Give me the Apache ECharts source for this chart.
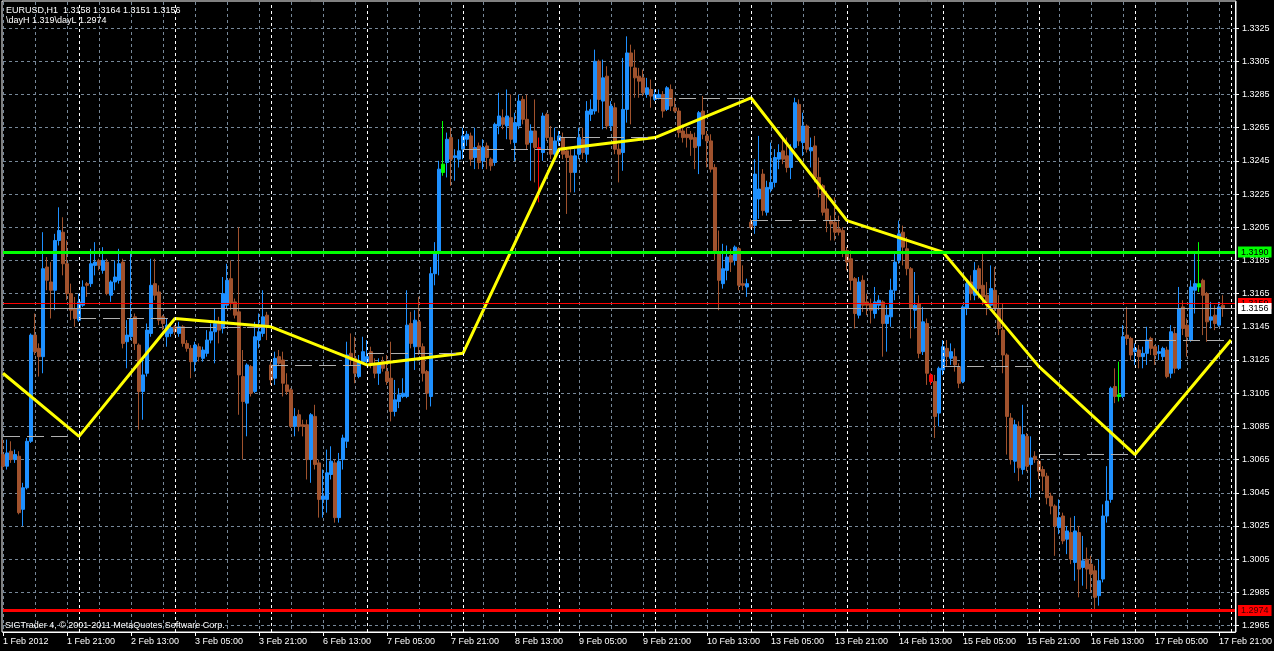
<!DOCTYPE html>
<html><head><meta charset="utf-8">
<script src="https://cdn.jsdelivr.net/npm/echarts@6/dist/echarts.min.js"></script>
<style>html,body{margin:0;padding:0;background:#000}#c{width:1274px;height:651px}</style>
</head><body><div id="c"></div>
<script>
// ---------- data ----------
const tradingDays = ['1 Feb','2 Feb','3 Feb','6 Feb','7 Feb','8 Feb','9 Feb','10 Feb','13 Feb','14 Feb','15 Feb','16 Feb','17 Feb','18 Feb'];
const firstHour = 5;
const slotCount = 309;
const firstLabel = '1 Feb 2012';
const symbolName = 'EURUSD,H1';
const indicatorText = '\\dayH 1.319\\dayL 1.2974';
const copyrightText = 'SIGTrader 4, \u00a9 2001-2011 MetaQuotes Software Corp.';
const yTicks = [1.2965,1.2985,1.3005,1.3025,1.3045,1.3065,1.3085,1.3105,1.3125,1.3145,1.3165,1.3185,1.3205,1.3225,1.3245,1.3265,1.3285,1.3305,1.3325];

// [open, close, low, high]
const ohlcWeek1 = [
[1.3068,1.3061,1.3059,1.3077],[1.3061,1.3069,1.3059,1.3077],[1.3070,1.3065,1.3063,1.3076],[1.3065,1.3068,1.3063,1.3071],
[1.3067,1.3033,1.3032,1.3070],[1.3035,1.3048,1.3025,1.3051],[1.3048,1.3076,1.3047,1.3078],[1.3076,1.3140,1.3075,1.3141],
[1.3140,1.3130,1.3128,1.3153],[1.3132,1.3127,1.3115,1.3135],[1.3127,1.3180,1.3117,1.3202],[1.3181,1.3173,1.3167,1.3187],
[1.3172,1.3167,1.3150,1.3184],[1.3167,1.3197,1.3155,1.3201],[1.3197,1.3203,1.3194,1.3217],[1.3202,1.3183,1.3176,1.3211],
[1.3183,1.3165,1.3161,1.3197],[1.3165,1.3155,1.3149,1.3171],[1.3156,1.3150,1.3145,1.3163],[1.3149,1.3160,1.3148,1.3165],
[1.3158,1.3169,1.3157,1.3173],[1.3171,1.3170,1.3163,1.3172],[1.3171,1.3183,1.3169,1.3192],[1.3182,1.3184,1.3176,1.3196],
[1.3185,1.3182,1.3179,1.3186],[1.3179,1.3185,1.3177,1.3193],[1.3184,1.3165,1.3164,1.3186],[1.3164,1.3172,1.3160,1.3173],
[1.3172,1.3175,1.3167,1.3185],[1.3173,1.3183,1.3171,1.3192],[1.3184,1.3135,1.3132,1.3186],[1.3136,1.3140,1.3120,1.3149],
[1.3139,1.3150,1.3137,1.3189],[1.3151,1.3135,1.3131,1.3153],[1.3134,1.3106,1.3083,1.3135],[1.3106,1.3116,1.3089,1.3125],
[1.3117,1.3143,1.3115,1.3147],[1.3141,1.3170,1.3139,1.3186],[1.3171,1.3164,1.3161,1.3186],[1.3166,1.3149,1.3146,1.3170],
[1.3151,1.3147,1.3143,1.3152],[1.3139,1.3146,1.3133,1.3150],[1.3141,1.3144,1.3139,1.3147],[1.3145,1.3142,1.3140,1.3146],
[1.3141,1.3145,1.3139,1.3148],[1.3145,1.3135,1.3133,1.3146],[1.3135,1.3132,1.3130,1.3137],[1.3132,1.3124,1.3114,1.3134],
[1.3124,1.3134,1.3118,1.3136],[1.3133,1.3127,1.3124,1.3135],[1.3126,1.3131,1.3124,1.3133],[1.3129,1.3137,1.3127,1.3143],
[1.3137,1.3142,1.3135,1.3147],[1.3142,1.3147,1.3123,1.3156],[1.3147,1.3143,1.3135,1.3151],[1.3144,1.3165,1.3141,1.3175],
[1.3158,1.3173,1.3156,1.3183],[1.3174,1.3159,1.3155,1.3185],[1.3160,1.3152,1.3150,1.3162],[1.3154,1.3116,1.3092,1.3205],
[1.3115,1.3100,1.3065,1.3131],[1.3099,1.3122,1.3079,1.3123],[1.3121,1.3105,1.3103,1.3122],[1.3106,1.3139,1.3105,1.3148],
[1.3137,1.3142,1.3132,1.3153],[1.3141,1.3151,1.3139,1.3167],[1.3152,1.3145,1.3137,1.3154]
];
const ohlcWeek2 = [
[1.3122,1.3113,1.3110,1.3124],[1.3114,1.3126,1.3110,1.3130],[1.3127,1.3123,1.3122,1.3131],[1.3125,1.3111,1.3103,1.3130],
[1.3110,1.3106,1.3104,1.3117],[1.3107,1.3085,1.3084,1.3108],[1.3085,1.3091,1.3079,1.3096],[1.3092,1.3085,1.3082,1.3095],
[1.3086,1.3085,1.3079,1.3089],[1.3086,1.3065,1.3053,1.3089],[1.3065,1.3092,1.3051,1.3093],[1.3091,1.3062,1.3059,1.3098],
[1.3063,1.3041,1.3030,1.3065],[1.3041,1.3043,1.3030,1.3059],[1.3041,1.3057,1.3033,1.3071],[1.3056,1.3064,1.3053,1.3073],
[1.3063,1.3030,1.3027,1.3065],[1.3030,1.3064,1.3027,1.3069],[1.3065,1.3078,1.3059,1.3080],[1.3076,1.3128,1.3072,1.3136],
[1.3129,1.3125,1.3122,1.3141],[1.3126,1.3117,1.3111,1.3139],[1.3115,1.3124,1.3114,1.3128],[1.3124,1.3130,1.3123,1.3139],
[1.3124,1.3127,1.3122,1.3137],[1.3130,1.3122,1.3120,1.3133],[1.3123,1.3117,1.3114,1.3126],[1.3117,1.3123,1.3110,1.3126],
[1.3124,1.3120,1.3118,1.3127],[1.3118,1.3112,1.3110,1.3128],[1.3114,1.3094,1.3088,1.3136],[1.3094,1.3101,1.3091,1.3113],
[1.3100,1.3104,1.3096,1.3108],[1.3103,1.3105,1.3102,1.3114],[1.3103,1.3146,1.3102,1.3167],[1.3147,1.3135,1.3132,1.3154],
[1.3133,1.3149,1.3119,1.3155],[1.3148,1.3133,1.3128,1.3163],[1.3133,1.3117,1.3112,1.3135],[1.3118,1.3105,1.3095,1.3119],
[1.3103,1.3177,1.3097,1.3181],[1.3177,1.3189,1.3170,1.3196],[1.3190,1.3240,1.3176,1.3245],[1.3238,1.3243,1.3236,1.3269],
[1.3244,1.3258,1.3235,1.3262],[1.3259,1.3246,1.3230,1.3265],[1.3247,1.3248,1.3233,1.3252],[1.3246,1.3251,1.3241,1.3258],
[1.3252,1.3260,1.3246,1.3265],[1.3258,1.3261,1.3254,1.3263],[1.3260,1.3246,1.3242,1.3262],[1.3247,1.3253,1.3240,1.3265],
[1.3254,1.3244,1.3240,1.3256],[1.3245,1.3253,1.3240,1.3258],[1.3254,1.3247,1.3240,1.3256],[1.3246,1.3242,1.3239,1.3247],
[1.3244,1.3267,1.3242,1.3268],[1.3266,1.3272,1.3261,1.3286],[1.3271,1.3267,1.3264,1.3276],[1.3266,1.3272,1.3258,1.3288],
[1.3271,1.3258,1.3255,1.3285],[1.3256,1.3268,1.3245,1.3274],[1.3266,1.3281,1.3264,1.3285],[1.3282,1.3270,1.3267,1.3284],
[1.3270,1.3255,1.3252,1.3285],[1.3256,1.3263,1.3233,1.3267],[1.3263,1.3253,1.3232,1.3282],[1.3253,1.3252,1.3220,1.3259],
[1.3250,1.3272,1.3245,1.3274],[1.3273,1.3259,1.3257,1.3274],[1.3259,1.3249,1.3246,1.3266],[1.3249,1.3257,1.3246,1.3265],
[1.3257,1.3260,1.3254,1.3263],[1.3259,1.3249,1.3246,1.3262],[1.3251,1.3247,1.3213,1.3252],[1.3248,1.3238,1.3226,1.3252],
[1.3238,1.3248,1.3226,1.3252],[1.3249,1.3259,1.3246,1.3265],[1.3258,1.3250,1.3246,1.3265],[1.3249,1.3275,1.3244,1.3281],
[1.3273,1.3276,1.3269,1.3282],[1.3275,1.3305,1.3273,1.3312],[1.3305,1.3282,1.3274,1.3306],[1.3281,1.3295,1.3264,1.3306],
[1.3296,1.3266,1.3264,1.3302],[1.3266,1.3278,1.3263,1.3281],[1.3277,1.3252,1.3249,1.3280],[1.3252,1.3249,1.3232,1.3255],
[1.3250,1.3276,1.3239,1.3307],[1.3276,1.3310,1.3268,1.3320],[1.3310,1.3302,1.3267,1.3315],[1.3301,1.3295,1.3283,1.3312],
[1.3296,1.3293,1.3283,1.3301],[1.3295,1.3286,1.3284,1.3300],[1.3285,1.3289,1.3283,1.3295],[1.3288,1.3284,1.3277,1.3294],
[1.3282,1.3285,1.3281,1.3288],[1.3283,1.3285,1.3282,1.3288],[1.3285,1.3275,1.3271,1.3287],[1.3276,1.3289,1.3275,1.3290],
[1.3288,1.3278,1.3275,1.3291],[1.3277,1.3275,1.3274,1.3283],[1.3275,1.3262,1.3259,1.3277],[1.3263,1.3259,1.3256,1.3267],
[1.3261,1.3259,1.3253,1.3265],[1.3261,1.3258,1.3248,1.3263],[1.3259,1.3253,1.3240,1.3262],[1.3254,1.3274,1.3237,1.3275],
[1.3275,1.3261,1.3258,1.3284],[1.3260,1.3257,1.3241,1.3263],[1.3257,1.3240,1.3238,1.3261],[1.3241,1.3190,1.3185,1.3243],
[1.3190,1.3173,1.3155,1.3203],[1.3171,1.3180,1.3168,1.3195],[1.3179,1.3187,1.3173,1.3194],[1.3188,1.3184,1.3178,1.3192],
[1.3185,1.3193,1.3182,1.3194],[1.3192,1.3170,1.3167,1.3193],[1.3171,1.3170,1.3167,1.3182],[1.3169,1.3171,1.3163,1.3174]
];
const ohlcWeek3 = [
[1.3208,1.3205,1.3204,1.3210],[1.3206,1.3237,1.3201,1.3246],[1.3222,1.3228,1.3210,1.3260],[1.3237,1.3215,1.3212,1.3240],
[1.3214,1.3229,1.3212,1.3233],[1.3228,1.3232,1.3226,1.3256],[1.3232,1.3247,1.3229,1.3252],[1.3246,1.3250,1.3240,1.3255],
[1.3251,1.3246,1.3243,1.3259],[1.3248,1.3241,1.3238,1.3259],[1.3241,1.3252,1.3234,1.3255],[1.3253,1.3280,1.3252,1.3283],
[1.3279,1.3257,1.3254,1.3282],[1.3256,1.3266,1.3248,1.3274],[1.3266,1.3252,1.3250,1.3267],[1.3251,1.3253,1.3241,1.3259],
[1.3254,1.3235,1.3232,1.3260],[1.3235,1.3228,1.3223,1.3247],[1.3230,1.3214,1.3212,1.3231],[1.3216,1.3209,1.3202,1.3227],
[1.3209,1.3207,1.3197,1.3212],[1.3208,1.3202,1.3197,1.3223],[1.3204,1.3202,1.3200,1.3212],[1.3203,1.3190,1.3187,1.3205],
[1.3191,1.3184,1.3179,1.3193],[1.3186,1.3173,1.3167,1.3191],[1.3174,1.3153,1.3144,1.3175],[1.3152,1.3172,1.3150,1.3175],
[1.3173,1.3158,1.3154,1.3176],[1.3160,1.3158,1.3152,1.3165],[1.3159,1.3155,1.3147,1.3162],[1.3153,1.3160,1.3150,1.3169],
[1.3158,1.3161,1.3155,1.3164],[1.3160,1.3147,1.3127,1.3161],[1.3147,1.3152,1.3130,1.3158],[1.3151,1.3167,1.3145,1.3174],
[1.3167,1.3184,1.3161,1.3189],[1.3185,1.3201,1.3183,1.3209],[1.3202,1.3193,1.3182,1.3206],[1.3192,1.3180,1.3176,1.3199],
[1.3180,1.3156,1.3138,1.3181],[1.3155,1.3158,1.3144,1.3178],[1.3159,1.3129,1.3126,1.3164],[1.3130,1.3148,1.3128,1.3157],
[1.3147,1.3117,1.3110,1.3150],[1.3116,1.3112,1.3110,1.3117],[1.3112,1.3091,1.3078,1.3116],[1.3093,1.3120,1.3085,1.3121],
[1.3119,1.3133,1.3116,1.3137],[1.3132,1.3127,1.3121,1.3137],[1.3126,1.3130,1.3122,1.3135],[1.3127,1.3122,1.3118,1.3132],
[1.3121,1.3111,1.3108,1.3123],[1.3112,1.3157,1.3111,1.3158],[1.3156,1.3171,1.3152,1.3173],[1.3172,1.3165,1.3161,1.3176],
[1.3164,1.3179,1.3161,1.3184],[1.3180,1.3168,1.3162,1.3182],[1.3170,1.3163,1.3158,1.3189],[1.3164,1.3158,1.3152,1.3172],
[1.3158,1.3168,1.3155,1.3182],[1.3167,1.3156,1.3152,1.3181],[1.3156,1.3144,1.3140,1.3164],[1.3143,1.3128,1.3117,1.3159],
[1.3128,1.3091,1.3068,1.3129],[1.3090,1.3065,1.3062,1.3093],[1.3064,1.3086,1.3057,1.3089],[1.3085,1.3060,1.3052,1.3088],
[1.3059,1.3080,1.3056,1.3098],[1.3079,1.3061,1.3058,1.3081],[1.3062,1.3066,1.3042,1.3079],[1.3067,1.3065,1.3063,1.3070],
[1.3064,1.3058,1.3053,1.3065],[1.3059,1.3055,1.3046,1.3061],[1.3055,1.3042,1.3038,1.3057],[1.3043,1.3037,1.3032,1.3045],
[1.3037,1.3025,1.3007,1.3038],[1.3024,1.3030,1.3020,1.3041],[1.3031,1.3016,1.3014,1.3033],[1.3017,1.3022,1.3008,1.3025],
[1.3021,1.3005,1.3002,1.3030],[1.3003,1.3022,1.2992,1.3031],[1.3021,1.2999,1.2982,1.3025],[1.3000,1.3004,1.2989,1.3019],
[1.3005,1.2999,1.2987,1.3012],[1.3002,1.2996,1.2985,1.3007],[1.2998,1.2982,1.2974,1.3001],[1.2983,1.2992,1.2977,1.3005],
[1.2993,1.3031,1.2991,1.3038],[1.3031,1.3040,1.3027,1.3061],[1.3041,1.3108,1.3039,1.3109],[1.3109,1.3103,1.3099,1.3120],
[1.3103,1.3104,1.3100,1.3124],[1.3103,1.3139,1.3102,1.3146],[1.3140,1.3138,1.3134,1.3157],[1.3138,1.3128,1.3125,1.3139],
[1.3130,1.3132,1.3122,1.3135],[1.3131,1.3127,1.3120,1.3134],[1.3127,1.3129,1.3120,1.3133],[1.3129,1.3137,1.3122,1.3145],
[1.3138,1.3132,1.3128,1.3139],[1.3133,1.3128,1.3122,1.3134],[1.3129,1.3130,1.3125,1.3134],[1.3127,1.3132,1.3125,1.3133],
[1.3131,1.3115,1.3114,1.3133],[1.3117,1.3142,1.3114,1.3146],[1.3141,1.3120,1.3117,1.3144],[1.3120,1.3156,1.3119,1.3169],
[1.3157,1.3144,1.3140,1.3161],[1.3146,1.3139,1.3127,1.3150],[1.3137,1.3169,1.3136,1.3173],[1.3167,1.3171,1.3153,1.3189],
[1.3169,1.3171,1.3166,1.3196],[1.3173,1.3164,1.3140,1.3174],[1.3165,1.3148,1.3136,1.3166],[1.3149,1.3151,1.3144,1.3160],
[1.3152,1.3147,1.3143,1.3158],[1.3146,1.3157,1.3145,1.3160],[1.3158,1.3156,1.3151,1.3164]
];
const limeBars = [110, 279, 299];
const redBars = [134, 232];

// daily closes (yellow line vertices at the start of the next day) and day ranges
const dayStartIdx = [0,19,43,67,91,115,139,163,187,211,235,259,283];
const dayEndIdx   = [19,43,67,91,115,139,163,187,211,235,259,283,307];
const dailyClose  = [1.3079,1.3150,1.3145,1.3122,1.3129,1.3252,1.3259,1.3283,1.3209,1.3190,1.3121,1.3068,1.3137];
const lineStartValue = 1.3117;

// horizontal levels
const dayHigh = 1.3190, dayLow = 1.2974, askLevel = 1.3159, bidLevel = 1.3156;

// ---------- build ----------
const FONT = '"Liberation Sans", Arial, sans-serif';
const yMin = 1.29611, yMax = 1.33407;

const categories = [];
tradingDays.forEach((d, k) => {
  for (let h = (k === 0 ? firstHour : 0); h < 24 && categories.length < slotCount; h++) {
    categories.push(d + ' ' + String(h).padStart(2, '0') + ':00');
  }
});

const ohlc = ohlcWeek1.concat(ohlcWeek2, ohlcWeek3);
const candleData = ohlc.map((v, i) => {
  if (limeBars.includes(i)) return {value: v, itemStyle: {color: '#00ff00', color0: '#00ff00', borderColor: '#00ff00', borderColor0: '#00ff00'}};
  if (redBars.includes(i)) return {value: v, itemStyle: {color: '#ff0000', color0: '#ff0000', borderColor: '#ff0000', borderColor0: '#ff0000'}};
  return v;
});

const yellow = new Array(slotCount).fill(null);
yellow[0] = lineStartValue;
dayEndIdx.forEach((i, k) => { yellow[i] = dailyClose[k]; });

const last = ohlc[ohlc.length - 1];
const header = symbolName + '  ' + [last[0], last[3], last[2], last[1]].map(v => v.toFixed(4)).join(' ');

const levelLabel = (bg, fg) => ({show: true, position: 'end', distance: 3, formatter: p => Number(p.value).toFixed(4),
  backgroundColor: bg, color: fg, fontSize: 9, fontFamily: FONT, lineHeight: 10, padding: [1, 3, 0, 3]});

const option = {
  backgroundColor: '#000',
  animation: false,
  textStyle: {fontFamily: FONT},
  title: [
    {text: header + '\n' + indicatorText, left: 6, top: 6, padding: 0,
     textStyle: {color: '#fff', fontSize: 9, fontWeight: 'normal', lineHeight: 10, fontFamily: FONT}},
    {text: copyrightText, left: 5, top: 621, padding: 0,
     textStyle: {color: '#fff', fontSize: 9, fontWeight: 'normal', lineHeight: 10, fontFamily: FONT}}
  ],
  grid: [
    {left: 3, right: 39, top: 2, bottom: 19, show: false, outerBoundsMode: 'none', containLabel: false},
    {left: 2, right: 38, top: 1, bottom: 19, show: true, borderColor: '#fff', borderWidth: 1, backgroundColor: 'transparent', outerBoundsMode: 'none', containLabel: false}
  ],
  xAxis: [
    {type: 'category', gridIndex: 0, data: categories, boundaryGap: false,
     axisLine: {show: true, lineStyle: {color: '#fff'}},
     axisTick: {show: true, interval: 15, length: 4, lineStyle: {color: '#fff'}},
     axisLabel: {show: true, interval: 15, color: '#fff', fontSize: 9, fontFamily: FONT, align: 'left', margin: 5,
                 hideOverlap: false, formatter: (v, i) => i === 0 ? firstLabel : v},
     splitLine: {show: true, interval: 7, lineStyle: {color: '#778899', type: [3, 3], width: 1}}},
    {type: 'value', gridIndex: 1, show: false}
  ],
  yAxis: [
    {type: 'value', gridIndex: 0, position: 'right', min: yMin, max: yMax, scale: true,
     axisLine: {show: true, lineStyle: {color: '#fff'}},
     axisTick: {show: true, customValues: yTicks, length: 4, lineStyle: {color: '#fff'}},
     axisLabel: {show: true, customValues: yTicks, color: '#fff', fontSize: 9, fontFamily: FONT, margin: 7, formatter: v => v.toFixed(4)},
     splitLine: {show: true, lineStyle: {color: '#778899', type: [3, 3], width: 1}}},
    {type: 'value', gridIndex: 1, show: false}
  ],
  series: [
    {name: 'separators', type: 'line', xAxisIndex: 0, yAxisIndex: 0, data: new Array(slotCount).fill(null),
     silent: true, z: 1, symbol: 'none',
     markLine: {silent: true, symbol: ['none', 'none'], label: {show: false}, animation: false, precision: 4,
       data: dayEndIdx.map(i => ({xAxis: categories[i], lineStyle: {color: '#ffffff', type: [3, 3], width: 1}}))
         .concat(dayStartIdx.map((s, k) => [
           {coord: [categories[s], dailyClose[k]], lineStyle: {color: '#b0b0b0', type: [17, 7], width: 1}},
           {coord: [categories[dayEndIdx[k] - 1], dailyClose[k]]}
         ]))}},
    {name: 'EURUSD', type: 'candlestick', xAxisIndex: 0, yAxisIndex: 0, data: candleData, barWidth: 3, z: 2,
     silent: true, clip: false, large: false,
     itemStyle: {color: '#1E90FF', color0: '#A0522D', borderColor: '#1E90FF', borderColor0: '#A0522D', borderWidth: 1}},
    {name: 'daily', type: 'line', xAxisIndex: 0, yAxisIndex: 0, data: yellow, connectNulls: true, symbol: 'none',
     silent: true, z: 3, lineStyle: {color: '#ffff00', width: 3}},
    {name: 'levels', type: 'line', xAxisIndex: 0, yAxisIndex: 0, data: new Array(slotCount).fill(null),
     silent: true, z: 4, symbol: 'none',
     markLine: {silent: true, symbol: ['none', 'none'], animation: false, precision: 4,
       data: [
         {yAxis: dayHigh, lineStyle: {color: '#00ff00', width: 3, type: 'solid'}, label: levelLabel('#00ff00', '#000')},
         {yAxis: askLevel, lineStyle: {color: '#ff0000', width: 1, type: 'solid'}, label: levelLabel('#ff0000', '#000')},
         {yAxis: bidLevel, lineStyle: {color: '#a9a9a9', width: 1, type: 'solid'}, label: levelLabel('#ffffff', '#000')},
         {yAxis: dayLow, lineStyle: {color: '#ff0000', width: 3, type: 'solid'}, label: levelLabel('#ff0000', '#400000')}
       ]}}
  ]
};

const chart = echarts.init(document.getElementById('c'), null, {renderer: 'canvas'});
chart.setOption(option);
</script>
</body></html>
